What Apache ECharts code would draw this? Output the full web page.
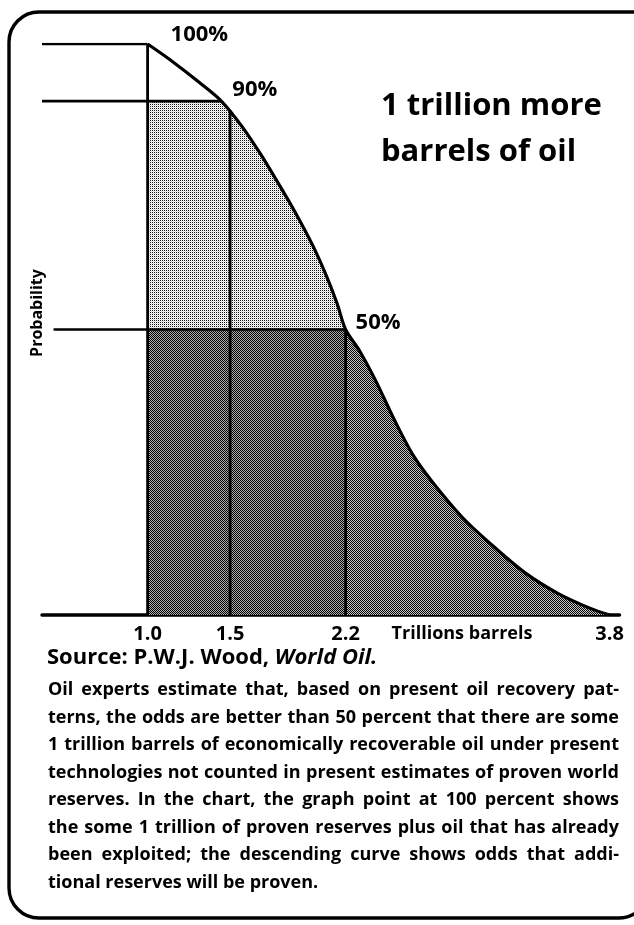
<!DOCTYPE html>
<html><head><meta charset="utf-8">
<script src="https://cdn.jsdelivr.net/npm/echarts@6/dist/echarts.min.js"></script>
<style>html,body{margin:0;padding:0;background:#fff}#c{width:634px;height:925px}</style>
</head><body><div id="c"></div>
<script>
// ---------------- data ----------------
const xTicks = [1.0, 1.5, 2.2, 3.8];
const curveX = [1.0, 1.138, 1.316, 1.447, 1.576, 1.685, 1.786, 1.895, 2.003, 2.085, 2.149, 2.2, 2.286, 2.383, 2.497, 2.611, 2.726, 2.914, 3.109, 3.297, 3.486, 3.68, 3.8];
const curveY = [100, 97.2, 93.2, 90, 85.4, 80.7, 75.9, 70.5, 64.6, 59.3, 54.5, 50, 46.2, 41.0, 34.1, 27.9, 23.3, 16.9, 11.7, 7.2, 3.8, 1.2, 0];
const keyX = [1.0, 1.447, 2.2];
const keyY = [100, 90, 50];
const guideStartX = [0.36, 0.36, 0.43];
const verticalX = [1.0, 1.5, 2.2];
const verticalTop = [100, 88.4, 50];
const xName = 'Trillions barrels';
const yName = 'Probability';
const headline = ['1 trillion more', 'barrels of oil'];
const paragraph = [
  'Oil experts estimate that, based on present oil recovery pat-',
  'terns, the odds are better than 50 percent that there are some',
  '1 trillion barrels of economically recoverable oil under present',
  'technologies not counted in present estimates of proven world',
  'reserves. In the chart, the graph point at 100 percent shows',
  'the some 1 trillion of proven reserves plus oil that has already',
  'been exploited; the descending curve shows odds that addi-',
  'tional reserves will be proven.'
];

// ---------------- styling helpers ----------------
const FF = "'Open Sans', sans-serif";
function pattern(a, b, c2, mode) {
  const c = document.createElement('canvas');
  c.width = 2; c.height = 2;
  const g = c.getContext('2d');
  g.fillStyle = b; g.fillRect(0, 0, 2, 2);
  g.fillStyle = a;
  if (mode === 'check') { g.fillRect(0, 0, 1, 1); g.fillRect(1, 1, 1, 1); }
  else { g.fillRect(0, 0, 1, 1); g.fillStyle = c2; g.fillRect(1, 1, 1, 1); }
  return { image: c, repeat: 'repeat' };
}
const lightFill = pattern('#111111', '#ffffff', '#d8d8d8', 'dot');
const darkFill = pattern('#000000', '#b0b0b0', null, 'check');
const tailFill = pattern('#000000', '#c8c8c8', null, 'check');

const pts = curveX.map((x, i) => [x, curveY[i]]);
const lightData = [[keyX[0], keyY[1]]].concat(pts.filter(p => p[0] >= keyX[1] && p[0] <= keyX[2]));
const darkData = [[keyX[0], keyY[2]], [keyX[2], keyY[2]]];
const tailData = pts.filter(p => p[0] >= keyX[2]);

const series = [];
function area(data, fill) {
  series.push({ type: 'line', data, symbol: 'none', lineStyle: { width: 0 }, areaStyle: { color: fill, opacity: 1 }, z: 1, silent: true });
}
area(lightData, lightFill);
area(darkData, darkFill);
area(tailData, tailFill);
function seg(data, w) {
  series.push({ type: 'line', data, symbol: 'none', lineStyle: { color: '#000', width: w }, z: 3, silent: true });
}
keyY.forEach((y, i) => seg([[guideStartX[i], y], [keyX[i], y]], 2.6));
verticalX.forEach((x, i) => seg([[x, 0], [x, verticalTop[i]]], 2.8));
series.push({ type: 'line', data: pts, symbol: 'none', smooth: 0.3, lineStyle: { color: '#000', width: 3.2 }, z: 4, silent: true });

const labelOffsets = [[18, -9], [6, -11], [5, -7]];
series.push({
  type: 'scatter', symbolSize: 0, itemStyle: { color: '#000' }, z: 5, silent: true,
  data: keyX.map((x, i) => ({ value: [x, keyY[i]], label: { offset: labelOffsets[i] } })),
  label: { show: true, position: 'right', distance: 5, formatter: p => p.value[1] + '%', color: '#000', textBorderWidth: 0, opacity: 1, fontFamily: FF, fontWeight: 'bold', fontSize: 22 }
});

// ---------------- text layout (graphic) ----------------
const graphics = [];
graphics.push({ type: 'rect', shape: { x: 9, y: 12, width: 640, height: 906, r: [30, 0, 30, 30] }, style: { fill: 'none', stroke: '#000', lineWidth: 3.4 }, z: 10 });
graphics.push({ type: 'text', x: 37, y: 313, rotation: Math.PI / 2, style: { text: yName, font: "bold 16px " + FF, fill: '#000', align: 'center', verticalAlign: 'middle' } });
graphics.push({ type: 'text', x: 462, y: 634, style: { text: xName, font: "bold 18px " + FF, fill: '#000', align: 'center', verticalAlign: 'middle' } });
headline.forEach((t, i) => graphics.push({ type: 'text', x: 381, y: 106 + i * 46, style: { text: t, font: "bold 31px " + FF, fill: '#000', align: 'left', verticalAlign: 'middle' } }));
graphics.push({ type: 'text', x: 47, y: 658, style: {
  text: '{a|Source: P.W.J. Wood, }{b|World Oil.}', fill: '#000', align: 'left', verticalAlign: 'middle',
  rich: { a: { fontFamily: FF, fontWeight: 'bold', fontSize: 22, fill: '#000' }, b: { fontFamily: FF, fontWeight: 'bold', fontStyle: 'italic', fontSize: 22, fill: '#000' } }
} });
(function justify() {
  const font = "bold 18px " + FF;
  const ctx = document.createElement('canvas').getContext('2d');
  ctx.font = font;
  const x0 = 48, x1 = 619, y0 = 690, lh = 27.5;
  paragraph.forEach((ln, i) => {
    const y = y0 + i * lh;
    if (i === paragraph.length - 1) {
      graphics.push({ type: 'text', x: x0, y, style: { text: ln, font, fill: '#000', align: 'left', verticalAlign: 'middle' } });
      return;
    }
    const words = ln.split(' ');
    const widths = words.map(w => ctx.measureText(w).width);
    const total = widths.reduce((a, b) => a + b, 0);
    const gap = (x1 - x0 - total) / (words.length - 1);
    let x = x0;
    words.forEach((w, j) => {
      graphics.push({ type: 'text', x, y, style: { text: w, font, fill: '#000', align: 'left', verticalAlign: 'middle' } });
      x += widths[j] + gap;
    });
  });
})();

const chart = echarts.init(document.getElementById('c'), null, { renderer: 'canvas' });
chart.setOption({
  animation: false,
  backgroundColor: '#fff',
  grid: { left: 42, top: 44, width: 577.5, bottom: 310, containLabel: false },
  xAxis: {
    type: 'value', min: 0.36, max: 3.86,
    axisLine: { show: true, lineStyle: { color: '#000', width: 3.5 } },
    axisTick: { show: false },
    splitLine: { show: false },
    axisLabel: { customValues: xTicks, formatter: v => Number(v).toFixed(1), color: '#000', fontFamily: FF, fontWeight: 'bold', fontSize: 20, margin: 9 }
  },
  yAxis: { type: 'value', min: 0, max: 100, show: false, splitLine: { show: false } },
  series,
  graphic: graphics
});
</script></body></html>
